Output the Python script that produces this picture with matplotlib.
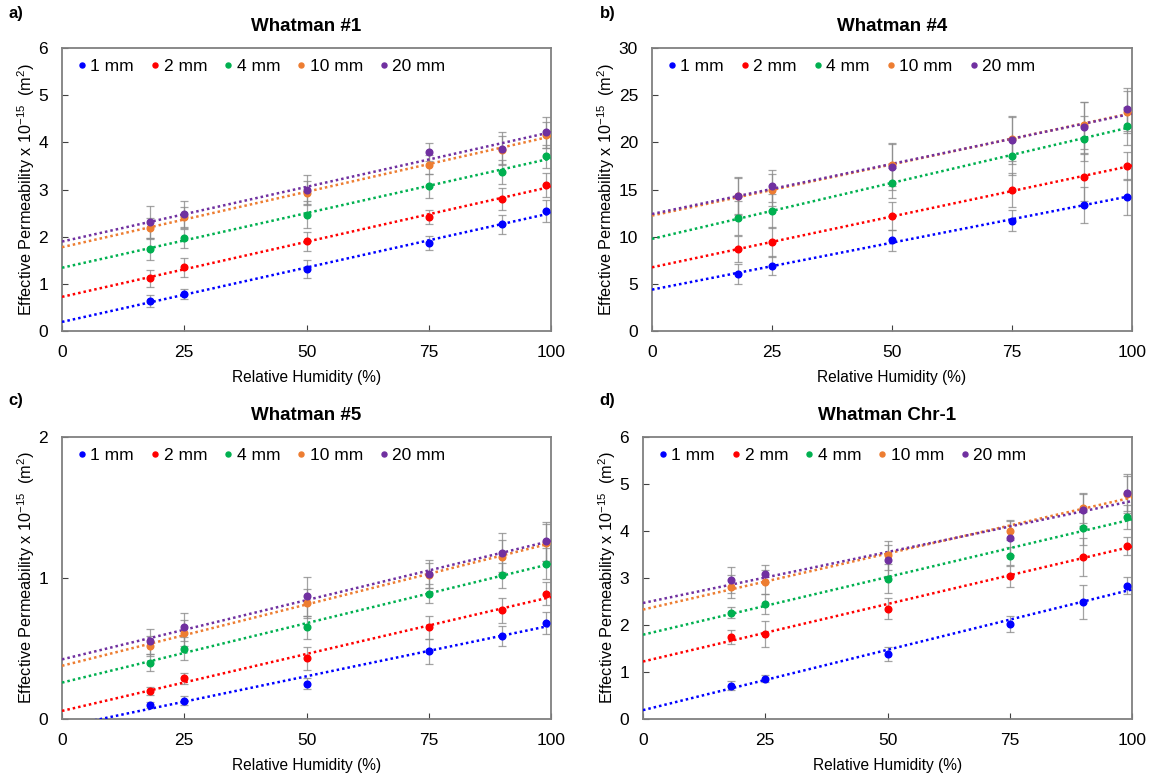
"""Effective permeability vs relative humidity for four Whatman papers."""

import matplotlib
matplotlib.use("Agg")
import matplotlib.pyplot as plt
import numpy as np

plt.rcParams["font.family"] = ["Liberation Sans", "DejaVu Sans"]
plt.rcParams["mathtext.fontset"] = "custom"
plt.rcParams["mathtext.rm"] = "Liberation Sans"
plt.rcParams["mathtext.it"] = "Liberation Sans"
plt.rcParams["mathtext.default"] = "regular"

rh = [18, 25, 50, 75, 90, 99]
labels = ["1 mm", "2 mm", "4 mm", "10 mm", "20 mm"]
colors = ["#0000FF", "#FF0000", "#00B050", "#ED7D31", "#7030A0"]

# Whatman #1
w1_vals = [
    [0.63, 0.79, 1.31, 1.86, 2.26, 2.54],
    [1.12, 1.35, 1.90, 2.42, 2.80, 3.09],
    [1.74, 1.97, 2.47, 3.07, 3.37, 3.70],
    [2.18, 2.41, 2.93, 3.53, 3.84, 4.16],
    [2.31, 2.48, 3.00, 3.80, 3.86, 4.21],
]
w1_err = [
    [0.13, 0.11, 0.19, 0.15, 0.20, 0.23],
    [0.18, 0.20, 0.20, 0.15, 0.23, 0.25],
    [0.23, 0.20, 0.28, 0.26, 0.25, 0.25],
    [0.22, 0.22, 0.25, 0.20, 0.30, 0.28],
    [0.34, 0.27, 0.30, 0.19, 0.35, 0.33],
]

# Whatman #4
w4_vals = [
    [6.05, 6.9, 9.6, 11.7, 13.4, 14.2],
    [8.7, 9.4, 12.2, 14.9, 16.3, 17.5],
    [12.0, 12.7, 15.7, 18.5, 20.4, 21.7],
    [14.3, 14.9, 17.6, 20.4, 21.8, 23.2],
    [14.3, 15.4, 17.4, 20.2, 21.6, 23.5],
]
w4_err = [
    [1.1, 1.0, 1.1, 1.1, 1.9, 1.9],
    [1.4, 1.6, 1.5, 1.8, 2.5, 1.5],
    [1.8, 1.8, 1.6, 2.0, 2.4, 2.0],
    [1.9, 1.7, 2.2, 2.4, 2.5, 2.2],
    [2.0, 1.7, 2.5, 2.5, 2.7, 2.3],
]

# Whatman #5
w5_vals = [
    [0.10, 0.13, 0.25, 0.48, 0.59, 0.68],
    [0.20, 0.29, 0.43, 0.65, 0.77, 0.89],
    [0.40, 0.50, 0.65, 0.89, 1.02, 1.10],
    [0.52, 0.61, 0.82, 1.02, 1.15, 1.25],
    [0.55, 0.65, 0.87, 1.03, 1.18, 1.26],
]
w5_err = [
    [0.02, 0.03, 0.04, 0.09, 0.07, 0.08],
    [0.03, 0.04, 0.08, 0.08, 0.09, 0.08],
    [0.06, 0.08, 0.08, 0.07, 0.09, 0.11],
    [0.07, 0.09, 0.10, 0.09, 0.12, 0.13],
    [0.09, 0.10, 0.14, 0.10, 0.14, 0.14],
]

# Whatman Chr-1
wc_vals = [
    [0.71, 0.86, 1.38, 2.02, 2.49, 2.84],
    [1.75, 1.81, 2.35, 3.04, 3.45, 3.68],
    [2.26, 2.45, 2.99, 3.47, 4.06, 4.30],
    [2.82, 2.92, 3.48, 4.01, 4.48, 4.78],
    [2.96, 3.09, 3.38, 3.86, 4.45, 4.82],
]
wc_err = [
    [0.09, 0.07, 0.15, 0.17, 0.36, 0.18],
    [0.15, 0.27, 0.23, 0.22, 0.40, 0.20],
    [0.12, 0.22, 0.30, 0.20, 0.35, 0.25],
    [0.25, 0.25, 0.30, 0.20, 0.30, 0.40],
    [0.28, 0.18, 0.33, 0.37, 0.35, 0.40],
]

panels = [
    ("a)", "Whatman #1", w1_vals, w1_err, 6, [0, 1, 2, 3, 4, 5, 6]),
    ("b)", "Whatman #4", w4_vals, w4_err, 30, [0, 5, 10, 15, 20, 25, 30]),
    ("c)", "Whatman #5", w5_vals, w5_err, 2, [0, 1, 2]),
    ("d)", "Whatman Chr-1", wc_vals, wc_err, 6, [0, 1, 2, 3, 4, 5, 6]),
]

# axes rectangles in figure fractions
rects = [
    [0.0537, 0.5740, 0.4234, 0.3642],
    [0.5645, 0.5740, 0.4156, 0.3642],
    [0.0537, 0.0746, 0.4234, 0.3629],
    [0.5567, 0.0746, 0.4234, 0.3629],
]
letter_pos = [(0.007, 0.982), (0.519, 0.982), (0.007, 0.484), (0.519, 0.484)]

fig = plt.figure(figsize=(11.55, 7.77), dpi=100)
x_fit = np.array([0, 100])

for (letter, title, vals, errs, ymax, yticks), rect, lp in zip(panels, rects, letter_pos):
    ax = fig.add_axes(rect)
    for lab, col, v, e in zip(labels, colors, vals, errs):
        ax.errorbar(rh, v, yerr=e, fmt="none", ecolor="#8C8C8C", elinewidth=0.9,
                    capsize=3, capthick=0.9, alpha=0.8, zorder=2)
        ax.plot(rh, v, "o", color=col, markersize=4.8, label=lab, zorder=4)
        m, b = np.polyfit(rh, v, 1)
        ax.plot(x_fit, m * x_fit + b, linestyle=(0, (1, 1.2)), color=col,
                linewidth=1.8, zorder=3)

    ax.set_xlim(0, 100)
    ax.set_ylim(0, ymax)
    ax.set_xticks([0, 25, 50, 75, 100])
    ax.set_yticks(yticks)
    ax.tick_params(direction="in", labelsize=12.5, length=4, color="#404040")
    ax.tick_params(axis="x", pad=10)
    ax.tick_params(axis="y", pad=10)
    for sp in ax.spines.values():
        sp.set_color("#808080")
        sp.set_linewidth(1.3)
    ax.set_title(title, fontsize=13.5, fontweight="bold", pad=12)
    ax.set_xlabel("Relative Humidity (%)", fontsize=11.2, labelpad=7)
    ax.set_ylabel("Effective Permeability x 10$^{-15}$  (m$^2$)", fontsize=11.7, labelpad=1)
    ax.legend(loc="upper left", ncol=5, frameon=False, fontsize=12.5, markerscale=0.75,
              handlelength=0.4, handletextpad=0.3, columnspacing=1.0,
              borderaxespad=0.2, bbox_to_anchor=(0.012, 1.0))
    fig.text(lp[0], lp[1], letter, fontsize=12, fontweight="bold", va="center")

fig.savefig("out.png", dpi=100)
